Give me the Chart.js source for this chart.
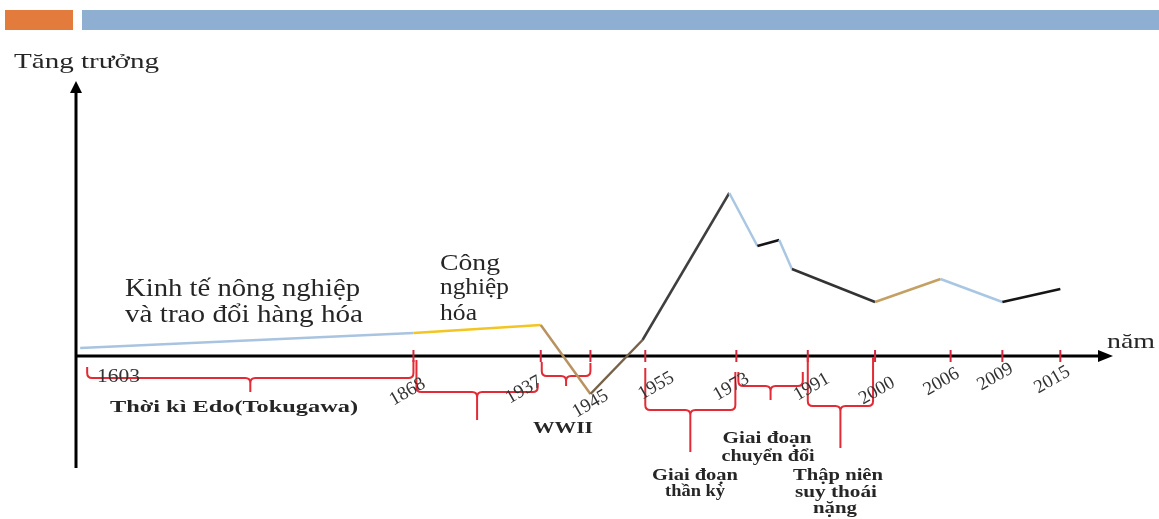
<!DOCTYPE html>
<html>
<head>
<meta charset="utf-8">
<script src="https://cdn.jsdelivr.net/npm/chart.js@4.4.1/dist/chart.umd.min.js"></script>
<style>
    html, body { margin: 0; padding: 0; background: #fff; }
    #wrap { position: relative; width: 1159px; height: 519px; }
    .bar { position: absolute; top: 10px; height: 20px; }
    #bar-orange { left: 5px; width: 68px; background: #e27b3c; }
    #bar-blue { left: 82px; width: 1077px; background: #8eaed2; }
</style>
</head>
<body>
<div id="wrap">
    <div class="bar" id="bar-orange"></div>
    <div class="bar" id="bar-blue"></div>
    <canvas id="growth-chart"></canvas>
</div>
<script>
// Schematic time axis: years and where each one sits along the axis (% of axis length)
const tickYears = [1603, 1868, 1937, 1945, 1955, 1973, 1991, 2000, 2006, 2009, 2015];
const tickPos = [0.5, 32.7, 45.0, 49.8, 55.1, 63.9, 70.8, 77.3, 84.6, 89.6, 95.2];

// Growth curve (arbitrary units, 0 = the time axis)
const lineYears = [1603, 1868, 1937, 1945, 1954.5, 1971.6, 1978.3, 1983.8, 1987, 2000, 2005.2, 2009, 2015];
const growthValues = [8, 23, 31, -38, 16, 163, 110, 116, 87, 54, 77, 54, 67];

// Periods marked with red braces under the axis
const periodStart = [1603, 1868, 1937, 1955, 1973, 1991];
const periodEnd = [1868, 1937, 1945, 1973, 1991, 2000];

const segmentColors = ['#a9c4e0', '#f2c520', '#b99262', '#776248', '#3f3f3f', '#a9c6e3',
    '#151515', '#a9c6e3', '#333333', '#c4a062', '#a9c6e3', '#151515'];

const SERIF = "'Liberation Serif', 'DejaVu Serif', serif";

// piecewise-linear year -> axis position
function yearToPos(year) {
    for (let i = 0; i < tickYears.length - 1; i++) {
        if (year <= tickYears[i + 1]) {
            const t = (year - tickYears[i]) / (tickYears[i + 1] - tickYears[i]);
            return tickPos[i] + t * (tickPos[i + 1] - tickPos[i]);
        }
    }
    return tickPos[tickPos.length - 1];
}

// draw text stretched to a given width (the slide is stretched horizontally)
function fitText(ctx, text, x, y, width, align) {
    const w = ctx.measureText(text).width;
    ctx.save();
    ctx.translate(x, y);
    ctx.scale(width ? width / w : 1, 1);
    ctx.textAlign = align || 'left';
    ctx.fillText(text, 0, 0);
    ctx.restore();
}

function drawBrace(ctx, x0, x1, topL, topR, bar, tip) {
    const r = 5;
    const m = (x0 + x1) / 2;
    ctx.beginPath();
    ctx.moveTo(x0, topL);
    ctx.lineTo(x0, bar - r);
    ctx.quadraticCurveTo(x0, bar, x0 + r, bar);
    ctx.lineTo(m - r, bar);
    ctx.quadraticCurveTo(m, bar, m, bar + r);
    ctx.lineTo(m, tip);
    ctx.moveTo(m, bar + r);
    ctx.quadraticCurveTo(m, bar, m + r, bar);
    ctx.lineTo(x1 - r, bar);
    ctx.quadraticCurveTo(x1, bar, x1, bar - r);
    ctx.lineTo(x1, topR);
    ctx.stroke();
}

const schemePlugin = {
    id: 'scheme',
    beforeDatasetsDraw(chart) {
        const ctx = chart.ctx;
        const xs = chart.scales.x;
        const ys = chart.scales.y;
        const x0 = xs.getPixelForValue(0);
        const y0 = ys.getPixelForValue(0);
        const xEnd = xs.getPixelForValue(100) + 3;
        const yTop = ys.getPixelForValue(ys.max) - 3;

        ctx.save();
        // axes
        ctx.strokeStyle = '#000';
        ctx.fillStyle = '#000';
        ctx.lineWidth = 3;
        ctx.beginPath();
        ctx.moveTo(x0 + 1, 468);
        ctx.lineTo(x0 + 1, yTop + 8);
        ctx.moveTo(x0, y0);
        ctx.lineTo(xEnd - 12, y0);
        ctx.stroke();
        ctx.beginPath();
        ctx.moveTo(x0 + 1, yTop - 2);
        ctx.lineTo(x0 - 5, yTop + 10);
        ctx.lineTo(x0 + 7, yTop + 10);
        ctx.closePath();
        ctx.fill();
        ctx.beginPath();
        ctx.moveTo(xEnd, y0);
        ctx.lineTo(xEnd - 15, y0 - 6);
        ctx.lineTo(xEnd - 15, y0 + 6);
        ctx.closePath();
        ctx.fill();

        // red tick marks
        ctx.strokeStyle = '#d5283c';
        ctx.lineWidth = 2;
        tickPos.forEach((p, i) => {
            if (i === 0) return;
            const px = xs.getPixelForValue(p);
            ctx.beginPath();
            ctx.moveTo(px, y0 - 6);
            ctx.lineTo(px, y0 + 6);
            ctx.stroke();
        });

        // braces
        const braceStyle = [
            { dl: 7, dr: 0, topL: 367, topR: 360, bar: 378, tip: 392 },
            { dl: 3, dr: -3, topL: 360, topR: 383, bar: 392, tip: 420 },
            { dl: 1, dr: 0, topL: 362, topR: 363, bar: 376, tip: 386 },
            { dl: 0, dr: -1, topL: 368, topR: 372, bar: 410, tip: 452 },
            { dl: 2, dr: -5, topL: 372, topR: 372, bar: 386, tip: 400 },
            { dl: 0, dr: -2, topL: 357, topR: 357, bar: 406, tip: 448 }
        ];
        ctx.strokeStyle = '#e32a35';
        ctx.lineWidth = 2;
        periodStart.forEach((s, i) => {
            const st = braceStyle[i];
            const a = xs.getPixelForValue(yearToPos(s)) + st.dl;
            const b = xs.getPixelForValue(yearToPos(periodEnd[i])) + st.dr;
            drawBrace(ctx, a, b, st.topL, st.topR, st.bar, st.tip);
        });

        // year labels
        const labelOffset = [[0, 0], [-6, 392], [-17, 390], [0, 404], [11, 386], [-5, 387],
            [4, 387], [2, 391], [-9, 382], [-7, 377], [-8, 380]];
        ctx.fillStyle = '#333';
        ctx.font = '19px ' + SERIF;
        ctx.textBaseline = 'middle';
        tickYears.forEach((yr, i) => {
            const px = xs.getPixelForValue(tickPos[i]);
            if (i === 0) {
                ctx.textBaseline = 'alphabetic';
                fitText(ctx, String(yr), 97, 382, 43);
                ctx.textBaseline = 'middle';
                return;
            }
            ctx.save();
            ctx.translate(px + labelOffset[i][0], labelOffset[i][1]);
            ctx.rotate(-0.52);
            ctx.textAlign = 'center';
            ctx.fillText(String(yr), 0, 0);
            ctx.restore();
        });
        ctx.textBaseline = 'alphabetic';

        // titles and annotations
        ctx.fillStyle = '#262626';
        ctx.font = '22px ' + SERIF;
        fitText(ctx, 'Tăng trưởng', 14, 68, 145);
        fitText(ctx, 'năm', 1107, 348, 48);
        ctx.font = '25px ' + SERIF;
        fitText(ctx, 'Kinh tế nông nghiệp', 125, 296, 235);
        fitText(ctx, 'và trao đổi hàng hóa', 125, 322, 238);
        ctx.font = '24px ' + SERIF;
        fitText(ctx, 'Công', 440, 270, 60);
        fitText(ctx, 'nghiệp', 440, 294, 69);
        fitText(ctx, 'hóa', 440, 320, 37);

        ctx.font = 'bold 17px ' + SERIF;
        fitText(ctx, 'Thời kì Edo(Tokugawa)', 110, 412, 248);
        fitText(ctx, 'WWII', 533, 433, 60);
        ctx.font = 'bold 16px ' + SERIF;
        fitText(ctx, 'Giai đoạn', 767, 443, 89, 'center');
        fitText(ctx, 'chuyển đổi', 768, 461, 93, 'center');
        fitText(ctx, 'Giai đoạn', 695, 480, 86, 'center');
        fitText(ctx, 'thần kỳ', 695, 496, 60, 'center');
        fitText(ctx, 'Thập niên', 838, 480, 90, 'center');
        fitText(ctx, 'suy thoái', 836, 497, 82, 'center');
        fitText(ctx, 'nặng', 835, 513, 44, 'center');
        ctx.restore();
    }
};

const canvas = document.getElementById('growth-chart');
new Chart(canvas.getContext('2d'), {
    type: 'line',
    data: {
        datasets: [{
            data: lineYears.map((yr, i) => ({ x: yearToPos(yr), y: growthValues[i] })),
            borderWidth: 2.5,
            borderColor: '#333',
            pointRadius: 0,
            tension: 0,
            clip: false,
            segment: {
                borderColor: c => segmentColors[c.p0DataIndex]
            }
        }]
    },
    options: {
        responsive: true,
        maintainAspectRatio: false,
        animation: false,
        layout: { padding: { left: 75, right: 49, top: 86, bottom: 63 } },
        scales: {
            x: { type: 'linear', min: 0, max: 100, display: false },
            y: { type: 'linear', min: -100, max: 270, display: false }
        },
        plugins: {
            legend: { display: false },
            tooltip: { enabled: false }
        }
    },
    plugins: [schemePlugin]
});
</script>
</body>
</html>
